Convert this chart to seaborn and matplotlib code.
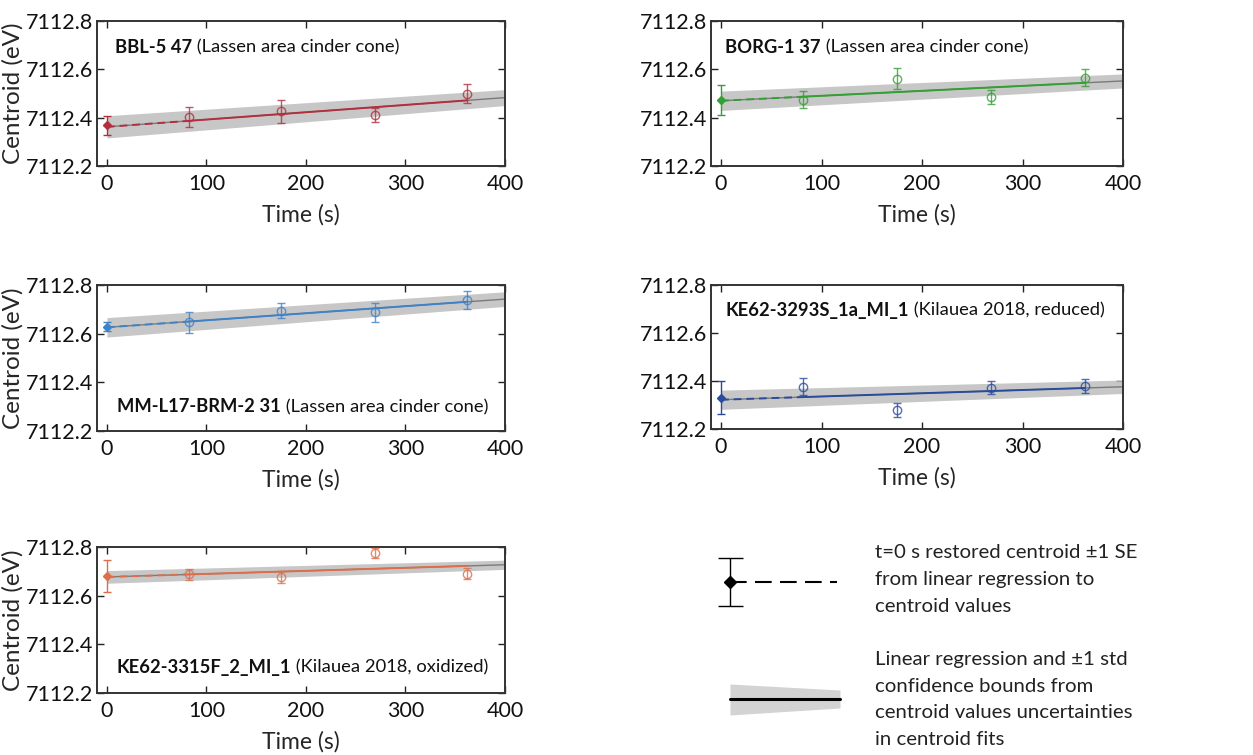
import numpy as np
import pandas as pd
import matplotlib
matplotlib.use("Agg")
import matplotlib.pyplot as plt
import seaborn as sns

sns.set_style("ticks")
plt.rcParams['font.family'] = ['Lato', 'DejaVu Sans']

# ---------------- data ----------------
times = [82, 175, 269, 362]
names_bold = ["BBL-5 47", "BORG-1 37", "MM-L17-BRM-2 31",
              "KE62-3293S_1a_MI_1", "KE62-3315F_2_MI_1"]
names_rest = [" (Lassen area cinder cone)", " (Lassen area cinder cone)",
              " (Lassen area cinder cone)", " (Kilauea 2018, reduced)",
              " (Kilauea 2018, oxidized)"]
colors = ["#b2303e", "#33a033", "#3f82c8", "#2b4c9c", "#dd6e4c"]

# restored centroid at t=0 and its 1 SE
t0_val = [7112.368, 7112.472, 7112.628, 7112.330, 7112.682]
t0_err = [0.040, 0.062, 0.018, 0.068, 0.065]

# measured centroids and uncertainties at each time
cent_1 = [7112.403, 7112.426, 7112.412, 7112.499]
err_1 = [0.041, 0.047, 0.030, 0.040]
cent_2 = [7112.474, 7112.561, 7112.484, 7112.566]
err_2 = [0.035, 0.043, 0.029, 0.034]
cent_3 = [7112.646, 7112.694, 7112.688, 7112.739]
err_3 = [0.044, 0.031, 0.040, 0.036]
cent_4 = [7112.376, 7112.279, 7112.372, 7112.379]
err_4 = [0.035, 0.028, 0.028, 0.031]
cent_5 = [7112.687, 7112.677, 7112.775, 7112.691]
err_5 = [0.022, 0.025, 0.020, 0.024]
cents = [cent_1, cent_2, cent_3, cent_4, cent_5]
errs = [err_1, err_2, err_3, err_4, err_5]

# linear regression: value at t=0 and t=400, band half width at t=0 and t=400
fit_start = [7112.362, 7112.470, 7112.626, 7112.322, 7112.677]
fit_end = [7112.483, 7112.552, 7112.742, 7112.376, 7112.727]
band_start = [0.046, 0.040, 0.040, 0.040, 0.026]
band_end = [0.033, 0.029, 0.030, 0.028, 0.019]

xticks = [0, 100, 200, 300, 400]
yticks = [7112.2, 7112.4, 7112.6, 7112.8]

# ---------------- layout ----------------
W, H = 1253, 755
fig = plt.figure(figsize=(W / 100, H / 100), dpi=100)

def rect(l, t, r, b):
    return [l / W, 1 - b / H, (r - l) / W, (b - t) / H]

rects = [rect(97, 21, 505, 166), rect(711, 21, 1123, 166),
         rect(97, 285, 505, 431), rect(711, 285, 1123, 429),
         rect(97, 547, 505, 693)]
text_pos = [(0.044, 0.82), (0.034, 0.82), (0.049, 0.165), (0.034, 0.826), (0.049, 0.178)]

FS = 15.5
TFS = 13.2
for i in range(5):
    ax = fig.add_axes(rects[i])
    c = colors[i]
    slope = (fit_end[i] - fit_start[i]) / 400.0
    # regression band and line
    bx = np.array([0, 400])
    by = np.array([fit_start[i], fit_end[i]])
    bw = np.array([band_start[i], band_end[i]])
    ax.fill_between(bx, by - bw, by + bw, color="#bdbdbd", alpha=0.85, lw=0, zorder=1)
    sns.lineplot(x=bx, y=by, ax=ax, color="#7a7a7a", lw=1.0, zorder=2)
    # coloured fit line: dashed from t=0 to first point, solid through measurements
    seg_d = pd.DataFrame({"t": [0, times[0]],
                          "v": [fit_start[i], fit_start[i] + slope * times[0]]})
    seg_s = pd.DataFrame({"t": [times[0], times[-1]],
                          "v": [fit_start[i] + slope * times[0], fit_start[i] + slope * times[-1]]})
    sns.lineplot(data=seg_d, x="t", y="v", ax=ax, color=c, lw=1.4, ls=(0, (4, 2.5)), zorder=3)
    sns.lineplot(data=seg_s, x="t", y="v", ax=ax, color=c, lw=1.4, zorder=3)
    # measurements
    ax.errorbar(times, cents[i], yerr=errs[i], fmt="o", mfc="none", mec=c, ms=6,
                mew=1.0, ecolor=c, elinewidth=1.0, capsize=3, capthick=1.0, zorder=4, alpha=0.8)
    # restored t=0
    ax.errorbar([0], [t0_val[i]], yerr=[t0_err[i]], fmt="D", color=c, ms=4.5,
                elinewidth=1.0, capsize=3, capthick=1.0, zorder=5)

    ax.set_xlim(-10, 400)
    ax.set_ylim(7112.2, 7112.8)
    ax.set_xticks(xticks)
    ax.set_xticklabels([str(v) for v in xticks], fontsize=FS)
    ax.set_yticks(yticks)
    ax.set_yticklabels([f"{v:.1f}" for v in yticks], fontsize=FS)
    ax.tick_params(direction="in", length=5, width=1.0, top=True, right=True,
                   colors="#222222", labelcolor="#111111")
    ax.tick_params(axis="x", pad=6)
    ax.tick_params(axis="y", pad=3)
    for s in ax.spines.values():
        s.set_color("#333333")
        s.set_linewidth(1.4)
    ax.set_xlabel("Time (s)", fontsize=16.5, labelpad=7)
    if i in (0, 2, 4):
        ax.set_ylabel("Centroid (eV)", fontsize=17.5, labelpad=1)
    else:
        ax.set_ylabel("")
    tx, ty = text_pos[i]
    t1 = ax.text(tx, ty, names_bold[i], transform=ax.transAxes, fontsize=TFS,
                 fontweight="bold", va="center", ha="left", color="#111111")
    ax.annotate(names_rest[i], xy=(1, 0), xycoords=t1, va="bottom", ha="left",
                fontsize=TFS, color="#111111")

# ---------------- legend area ----------------
lx = fig.add_axes(rect(680, 530, 1253, 755))
lx.set_xlim(680, 1253)
lx.set_ylim(755, 530)
lx.axis("off")
lx.plot([730, 837], [582, 582], color="black", lw=1.5, ls=(0, (8, 4)))
lx.errorbar([730], [582], yerr=[24], fmt="D", color="black", ms=6,
            elinewidth=1.0, capsize=9, capthick=1.0)
lx.fill_between([730, 840], [684, 690], [715, 708], color="#d3d3d3", lw=0)
lx.plot([730, 840], [699, 699], color="black", lw=2.2)
LFS = 14.7
legend_lines_1 = ["t=0 s restored centroid \u00b11 SE", "from linear regression to",
                  "centroid values"]
legend_lines_2 = ["Linear regression and \u00b11 std", "confidence bounds from",
                  "centroid values uncertainties", "in centroid fits"]
for k, s in enumerate(legend_lines_1):
    lx.text(875, 552 + 27 * k, s, fontsize=LFS, va="center", color="#222222")
for k, s in enumerate(legend_lines_2):
    lx.text(875, 660 + 26.5 * k, s, fontsize=LFS, va="center", color="#222222")

fig.savefig("out.png", dpi=100)
